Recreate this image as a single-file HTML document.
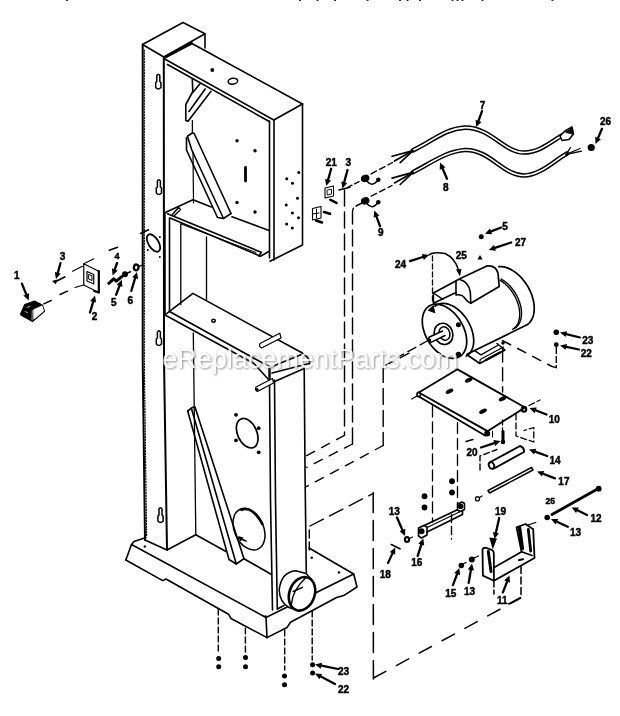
<!DOCTYPE html>
<html><head><meta charset="utf-8"><title>Parts Diagram</title>
<style>
html,body{margin:0;padding:0;background:#fff;}
body{width:620px;height:716px;overflow:hidden;position:relative;font-family:"Liberation Sans",sans-serif;}
svg{position:absolute;left:0;top:0;display:block}
svg text{font-family:"Liberation Sans",sans-serif;font-weight:bold;fill:#000;stroke:#000;stroke-width:0.45px;}
</style></head><body>
<svg width="620" height="716" viewBox="0 0 620 716" stroke-linecap="round" stroke-linejoin="round">
<g filter="url(#b)">
<defs><filter id="b" x="-5%" y="-5%" width="110%" height="110%"><feGaussianBlur stdDeviation="0.35"/></filter></defs>
<rect x="66" y="-1" width="2" height="1.8" fill="#000"/>
<rect x="299" y="-1" width="2" height="1.8" fill="#000"/>
<rect x="316.5" y="-1" width="2" height="1.8" fill="#000"/>
<rect x="334" y="-1" width="2" height="1.8" fill="#000"/>
<rect x="366.5" y="-1" width="2" height="1.8" fill="#000"/>
<rect x="399" y="-1" width="2" height="1.8" fill="#000"/>
<rect x="406.5" y="-1" width="2" height="1.8" fill="#000"/>
<rect x="419" y="-1" width="2" height="1.8" fill="#000"/>
<rect x="451.5" y="-1" width="2" height="1.8" fill="#000"/>
<rect x="456.5" y="-1" width="2" height="1.8" fill="#000"/>
<rect x="461.5" y="-1" width="2" height="1.8" fill="#000"/>
<rect x="481.5" y="-1" width="2" height="1.8" fill="#000"/>
<rect x="551.5" y="-1" width="2" height="1.8" fill="#000"/>
<polyline points="142.7,44.5 142.7,360.0 145.0,540.0" fill="none" stroke="#000" stroke-width="2" />
<polyline points="145.0,540.0 167.0,550.0 195.8,534.8" fill="none" stroke="#000" stroke-width="1.6" />
<polyline points="142.5,44.5 183.0,22.5 205.0,33.8 163.8,57.0 142.5,44.5" fill="none" stroke="#000" stroke-width="1.6" />
<polyline points="205.0,33.8 205.0,48.0" fill="none" stroke="#000" stroke-width="1.6" />
<polyline points="163.8,57.0 164.0,360.0 167.0,550.0" fill="none" stroke="#000" stroke-width="2" />
<polyline points="144.3,50.0 144.3,360.0 146.6,536.0" fill="none" stroke="#000" stroke-width="1.2" stroke-dasharray="1.2 1.6"/>
<path d="M156.8,81.5 L156.8,75.5 Q158.3,73.0 159.8,75.5 L159.8,81.5 L160.9,82.5 L160.9,87.5 Q158.3,90.5 155.70000000000002,87.5 L155.70000000000002,82.5 Z" fill="none" stroke="#000" stroke-width="1.5" />
<path d="M157.4,187 L157.4,181 Q158.9,178.5 160.4,181 L160.4,187 L161.5,188 L161.5,193 Q158.9,196 156.3,193 L156.3,188 Z" fill="none" stroke="#000" stroke-width="1.5" />
<path d="M157.4,338 L157.4,332 Q158.9,329.5 160.4,332 L160.4,338 L161.5,339 L161.5,344 Q158.9,347 156.3,344 L156.3,339 Z" fill="none" stroke="#000" stroke-width="1.5" />
<path d="M159.0,515 L159.0,509 Q160.5,506.5 162.0,509 L162.0,515 L163.1,516 L163.1,521 Q160.5,524 157.9,521 L157.9,516 Z" fill="none" stroke="#000" stroke-width="1.5" />
<ellipse cx="153.5" cy="243" rx="5" ry="9.8" transform="rotate(-32 153.5 243)" fill="none" stroke="#000" stroke-width="1.8"/>
<polyline points="140.5,233.5 148.5,229.7" fill="none" stroke="#000" stroke-width="1.5" />
<circle cx="159.8" cy="237.1" r="1" fill="#000"/>
<circle cx="159.8" cy="257.1" r="1" fill="#000"/>
<circle cx="147.8" cy="250" r="1" fill="#000"/>
<polyline points="165.0,57.3 191.5,43.3" fill="none" stroke="#000" stroke-width="2.8" />
<polyline points="191.0,43.0 302.5,104.0" fill="none" stroke="#000" stroke-width="1.6" />
<polyline points="163.8,58.5 273.8,120.0 302.5,104.0" fill="none" stroke="#000" stroke-width="1.6" />
<polyline points="167.5,64.5 268.8,121.2" fill="none" stroke="#000" stroke-width="1.6" />
<polyline points="302.5,104.0 302.5,245.0 270.0,261.2" fill="none" stroke="#000" stroke-width="1.6" />
<polyline points="274.0,120.0 274.0,260.0" fill="none" stroke="#000" stroke-width="1.6" />
<polyline points="269.5,121.0 269.5,258.0" fill="none" stroke="#000" stroke-width="1.6" />
<polyline points="192.4,120.6 192.4,133.0" fill="none" stroke="#000" stroke-width="1.3" />
<polyline points="193.0,152.0 193.5,203.0" fill="none" stroke="#000" stroke-width="1.2" />
<circle cx="212.3" cy="70" r="1.9" fill="#000"/>
<ellipse cx="232.9" cy="81.2" rx="4.8" ry="2.9" transform="rotate(-8 232.9 81.2)" fill="none" stroke="#000" stroke-width="1.5"/>
<polyline points="192.3,79.5 192.8,91.5 185.8,104.5 185.8,120.6 188.0,121.3 211.0,91.3" fill="none" stroke="#000" stroke-width="1.6" />
<polyline points="189.0,111.5 205.2,89.0" fill="none" stroke="#000" stroke-width="1.6" />
<polyline points="193.2,92.0 199.8,84.0" fill="none" stroke="#000" stroke-width="1.6" />
<polyline points="186.5,138.5 186.5,150.0 217.5,217.5 223.5,218.5 231.0,213.5" fill="none" stroke="#000" stroke-width="1.6" />
<polyline points="187.7,137.0 191.8,150.0 223.5,218.5" fill="none" stroke="#000" stroke-width="1.6" />
<polyline points="186.5,138.5 187.7,136.0 192.3,133.0 194.2,133.5 231.0,213.5" fill="none" stroke="#000" stroke-width="1.6" />
<circle cx="237" cy="140.75" r="1.7" fill="#000"/>
<circle cx="255" cy="150.75" r="1.7" fill="#000"/>
<circle cx="237" cy="202.5" r="1.7" fill="#000"/>
<circle cx="255" cy="212" r="1.7" fill="#000"/>
<polyline points="245.5,167.5 245.5,181.0" fill="none" stroke="#000" stroke-width="2.8" />
<circle cx="298.75" cy="172.5" r="1.5" fill="#000"/>
<circle cx="286.75" cy="178.75" r="1.5" fill="#000"/>
<circle cx="292.5" cy="183.25" r="1.5" fill="#000"/>
<circle cx="297.5" cy="198.25" r="1.5" fill="#000"/>
<circle cx="286.25" cy="205" r="1.5" fill="#000"/>
<circle cx="292.4" cy="213" r="1.5" fill="#000"/>
<circle cx="298.5" cy="217.7" r="1.5" fill="#000"/>
<circle cx="286.6" cy="224" r="1.5" fill="#000"/>
<circle cx="292.3" cy="228" r="1.5" fill="#000"/>
<polyline points="165.3,212.6 193.0,199.7 211.3,207.0" fill="none" stroke="#000" stroke-width="1.6" />
<polyline points="232.0,216.8 269.0,230.5" fill="none" stroke="#000" stroke-width="1.6" />
<path d="M172.4,214.5 L178.5,207.5 L180.5,209.5 L174.5,215.5" fill="none" stroke="#000" stroke-width="1.4" />
<polyline points="167.5,213.8 261.2,252.3 259.0,256.3" fill="none" stroke="#000" stroke-width="1.6" />
<polyline points="260.5,256.3 268.8,251.5" fill="none" stroke="#000" stroke-width="1.6" />
<polyline points="170.0,218.0 258.8,255.5" fill="none" stroke="#000" stroke-width="1.6" />
<polyline points="181.0,224.0 256.0,252.5" fill="none" stroke="#000" stroke-width="1" />
<polyline points="164.6,213.0 164.7,314.0" fill="none" stroke="#000" stroke-width="2.2" />
<polyline points="169.5,218.0 169.5,311.0" fill="none" stroke="#000" stroke-width="1.6" />
<polyline points="180.8,224.0 180.8,304.5" fill="none" stroke="#000" stroke-width="1.3" />
<polyline points="206.5,237.0 206.5,300.0" fill="none" stroke="#000" stroke-width="1.3" />
<polyline points="165.5,314.5 169.5,311.3 192.9,293.4 301.0,352.3" fill="none" stroke="#000" stroke-width="1.6" />
<path d="M301,352.3 Q308,356.5 309.5,361 Q310,364 309,364" fill="none" stroke="#000" stroke-width="1.6" />
<polyline points="169.5,311.5 270.3,367.3 301.0,354.7" fill="none" stroke="#000" stroke-width="1.6" />
<polyline points="165.5,315.2 254.0,363.5 268.7,379.7" fill="none" stroke="#000" stroke-width="1.6" />
<polyline points="269.5,366.8 269.5,380.0" fill="none" stroke="#000" stroke-width="2.4" />
<polyline points="272.0,373.0 309.0,363.5" fill="none" stroke="#000" stroke-width="1.6" />
<polyline points="273.5,382.0 304.2,368.4" fill="none" stroke="#000" stroke-width="1.6" />
<polyline points="304.2,368.0 305.0,470.0 306.3,574.0" fill="none" stroke="#000" stroke-width="1.6" />
<polyline points="269.5,380.0 270.5,500.0 272.5,610.0" fill="none" stroke="#000" stroke-width="1.6" />
<polyline points="274.5,380.0 275.5,500.0 277.3,609.0" fill="none" stroke="#000" stroke-width="1.6" />
<polyline points="193.3,333.0 195.8,534.8" fill="none" stroke="#000" stroke-width="1.3" />
<path d="M261.5,348 L281,338 L279.8,333.2 L260,343.5 Q258.5,346.5 261.5,348Z" fill="#fff" stroke="#000" stroke-width="1.2" />
<path d="M257.4,391.5 L273.5,383 L272.5,378.5 L256,387 Q254.5,390 257.4,391.5Z" fill="#fff" stroke="#000" stroke-width="1.2" />
<circle cx="257" cy="389.5" r="1.6" fill="#000"/>
<ellipse cx="213.5" cy="320.8" rx="1.8" ry="1.5" transform="rotate(0 213.5 320.8)" fill="none" stroke="#000" stroke-width="1.4"/>
<polyline points="195.8,534.8 226.0,551.5" fill="none" stroke="#000" stroke-width="1.6" />
<polyline points="244.0,558.7 271.5,574.5" fill="none" stroke="#000" stroke-width="1.6" />
<polyline points="187.7,411.0 229.0,559.5 236.3,564.0 244.0,558.7" fill="none" stroke="#000" stroke-width="1.6" />
<polyline points="191.6,409.0 236.3,564.0" fill="none" stroke="#000" stroke-width="1.6" />
<polyline points="187.7,411.0 191.6,408.0 194.8,406.5 244.0,558.7" fill="none" stroke="#000" stroke-width="1.6" />
<ellipse cx="247.2" cy="433.2" rx="9.6" ry="15.6" transform="rotate(-24 247.2 433.2)" fill="none" stroke="#000" stroke-width="1.7"/>
<circle cx="236" cy="414.8" r="1.9" fill="#000"/>
<circle cx="258.7" cy="428.2" r="1.9" fill="#000"/>
<circle cx="236" cy="440.3" r="1.9" fill="#000"/>
<circle cx="258.7" cy="452.3" r="1.9" fill="#000"/>
<ellipse cx="249" cy="529.2" rx="14.6" ry="21.8" transform="rotate(-24 249 529.2)" fill="none" stroke="#000" stroke-width="1.5"/>
<path d="M241.5,509.8 Q252,505.5 262.3,524" fill="none" stroke="#000" stroke-width="2.6" />
<polyline points="238.5,538.0 246.0,541.0" fill="none" stroke="#000" stroke-width="1.6" />
<polygon points="238,536 243.5,537.5 240.5,541.5" fill="#000"/>
<polyline points="146.0,537.5 134.0,541.5 131.5,544.5 125.8,560.0" fill="none" stroke="#000" stroke-width="1.6" />
<polyline points="131.5,544.5 266.0,617.5 353.7,574.0 309.0,548.0" fill="none" stroke="#000" stroke-width="1.6" />
<polyline points="125.8,560.0 162.7,580.6 166.0,579.0 228.5,614.2 231.0,618.5 267.0,637.6" fill="none" stroke="#000" stroke-width="1.6" />
<polyline points="266.0,617.5 267.0,637.6" fill="none" stroke="#000" stroke-width="1.6" />
<polyline points="267.0,637.6 287.0,627.5 290.5,622.3 336.6,597.5 343.7,595.6 357.0,587.0 353.7,574.0" fill="none" stroke="#000" stroke-width="1.6" />
<circle cx="144.9" cy="546.5" r="1.2" fill="#000"/>
<circle cx="265.6" cy="616.5" r="1.2" fill="#000"/>
<circle cx="311.7" cy="557.7" r="1.2" fill="#000"/>
<circle cx="339" cy="572.4" r="1.2" fill="#000"/>
<polyline points="277.3,609.0 284.0,605.5" fill="none" stroke="#000" stroke-width="1.6" />
<path d="M295.8,570.7 Q281,572 279.2,590 Q279.5,602 289,607.5 L300,611 L312,580 L306,573.5 Z" fill="#fff" stroke="#000" stroke-width="1.5" />
<ellipse cx="302" cy="593.8" rx="12.6" ry="17.2" transform="rotate(20 302 593.8)" fill="#fff" stroke="#000" stroke-width="2.6"/>
<path d="M306,577.5 Q292.5,590 291.5,604" fill="none" stroke="#000" stroke-width="1.4" />
<polyline points="293.2,591.5 302.5,587.3" fill="none" stroke="#000" stroke-width="1.4" />
<polyline points="218.3,609.0 218.3,652.0" fill="none" stroke="#000" stroke-width="1.4" stroke-dasharray="6 3"/>
<polyline points="245.4,628.0 245.4,652.0" fill="none" stroke="#000" stroke-width="1.4" stroke-dasharray="6 3"/>
<polyline points="284.7,630.0 284.7,670.0" fill="none" stroke="#000" stroke-width="1.4" stroke-dasharray="6 3"/>
<polyline points="312.2,611.0 312.2,660.0" fill="none" stroke="#000" stroke-width="1.4" stroke-dasharray="6 3"/>
<circle cx="218.7" cy="658.4" r="2.5" fill="#000"/>
<circle cx="218.7" cy="666.8" r="2.5" fill="#000"/>
<circle cx="245.5" cy="657.5" r="2.5" fill="#000"/>
<circle cx="245.5" cy="666.8" r="2.5" fill="#000"/>
<circle cx="284.5" cy="676" r="2.5" fill="#000"/>
<circle cx="284.5" cy="684.8" r="2.5" fill="#000"/>
<circle cx="312.6" cy="664.7" r="2.5" fill="#000"/>
<circle cx="312.6" cy="673" r="2.5" fill="#000"/>
<polyline points="338.0,669.0 321.4,665.7" fill="none" stroke="#000" stroke-width="2.2" />
<polygon points="315.0,664.5 322.0,662.8 320.8,668.7" fill="#000"/>
<polyline points="335.0,684.0 320.8,676.5" fill="none" stroke="#000" stroke-width="2.2" />
<polygon points="315.0,673.5 322.1,673.9 319.4,679.2" fill="#000"/>
<text x="343.5" y="675" font-size="10" text-anchor="middle">23</text>
<text x="343.5" y="692.5" font-size="10" text-anchor="middle">22</text>
<text x="16.9" y="279" font-size="10" text-anchor="middle">1</text>
<polyline points="21.9,283.6 26.3,294.5" fill="none" stroke="#000" stroke-width="2.3" />
<polygon points="28.7,300.5 23.4,295.6 29.1,293.3" fill="#000"/>
<path d="M20.8,313.5 L24.8,304.5 L34.4,301 L42.3,305 L44.5,311.3 L32.5,321.5 L20.8,315Z" fill="#000" stroke="#000" stroke-width="1.2" />
<path d="M34,309.5 L42,306 L43.6,311 L34,319Z" fill="#fff" stroke="#fff" stroke-width="0.8" />
<polyline points="32.3,310.5 32.0,320.0" fill="none" stroke="#bbb" stroke-width="0.9" />
<polyline points="27.0,307.5 30.0,306.3" fill="none" stroke="#ccc" stroke-width="0.8" />
<polyline points="25.0,311.5 27.5,312.5" fill="none" stroke="#ccc" stroke-width="0.8" />
<polyline points="43.8,303.8 51.2,300.5" fill="none" stroke="#000" stroke-width="1.4" />
<polyline points="60.0,294.5 67.5,291.2" fill="none" stroke="#000" stroke-width="1.4" />
<text x="62.5" y="259.5" font-size="10" text-anchor="middle">3</text>
<polyline points="60.5,263.0 57.8,272.7" fill="none" stroke="#000" stroke-width="2.3" />
<polygon points="56.0,279.0 54.8,271.9 60.7,273.6" fill="#000"/>
<polyline points="54.7,282.0 64.8,277.0" fill="none" stroke="#000" stroke-width="1.7" />
<polygon points="52,281 57,279.5 56,284.5" fill="#000"/>
<path d="M83.75,263.75 L98.75,271.25 L98.75,292.5 L83.75,285Z" fill="none" stroke="#000" stroke-width="1.2" />
<polyline points="98.8,271.2 98.8,292.5" fill="none" stroke="#000" stroke-width="2.2" />
<polyline points="98.8,292.5 94.0,291.0" fill="none" stroke="#000" stroke-width="2" />
<path d="M87,271.5 L93.75,274.5 L93.75,284 L87,281Z" fill="none" stroke="#000" stroke-width="1.2" />
<path d="M89,274.5 L92,275.8 L92,280.5 L89,279.2Z" fill="none" stroke="#000" stroke-width="1" />
<polyline points="83.8,263.8 93.8,258.8" fill="none" stroke="#000" stroke-width="1.1" />
<polyline points="72.5,271.2 82.5,266.2" fill="none" stroke="#000" stroke-width="1.1" />
<polyline points="83.8,285.0 75.0,287.5" fill="none" stroke="#000" stroke-width="1.1" />
<text x="94.5" y="320" font-size="10" text-anchor="middle">2</text>
<polyline points="90.0,312.5 93.2,301.7" fill="none" stroke="#000" stroke-width="2.3" />
<polygon points="95.0,295.5 96.1,302.6 90.2,300.9" fill="#000"/>
<text x="117.1" y="259" font-size="9" text-anchor="middle">4</text>
<polyline points="109.3,250.3 117.6,247.3" fill="none" stroke="#000" stroke-width="1.5" />
<polyline points="117.1,263.0 114.8,269.4" fill="none" stroke="#000" stroke-width="2.3" />
<polygon points="112.6,275.5 111.9,268.3 117.7,270.4" fill="#000"/>
<polyline points="108.8,283.3 113.7,278.8 116.3,281.2 122.0,276.5" fill="none" stroke="#000" stroke-width="3" />
<text x="113.7" y="306.3" font-size="10" text-anchor="middle">5</text>
<polyline points="116.1,294.8 119.5,285.9" fill="none" stroke="#000" stroke-width="2.3" />
<polygon points="121.8,279.8 122.4,287.0 116.6,284.8" fill="#000"/>
<circle cx="125" cy="274.2" r="3" fill="#000"/>
<polyline points="127.0,273.3 130.5,271.8" fill="none" stroke="#000" stroke-width="1.5" />
<text x="130.3" y="304" font-size="10" text-anchor="middle">6</text>
<polyline points="131.3,290.9 135.1,278.2" fill="none" stroke="#000" stroke-width="2.3" />
<polygon points="137.0,272.0 138.1,279.1 132.2,277.3" fill="#000"/>
<ellipse cx="136.2" cy="267.4" rx="2.3" ry="2.9" transform="rotate(10 136.2 267.4)" fill="none" stroke="#000" stroke-width="2.3"/>
<polyline points="139.0,266.3 143.0,264.8" fill="none" stroke="#000" stroke-width="1.3" />
<text x="331.25" y="166" font-size="10" text-anchor="middle">21</text>
<polyline points="331.2,168.8 328.1,179.8" fill="none" stroke="#000" stroke-width="2.3" />
<polygon points="326.2,186.0 325.1,178.9 331.0,180.6" fill="#000"/>
<text x="348.25" y="166" font-size="10" text-anchor="middle">3</text>
<polyline points="347.5,170.0 344.2,182.2" fill="none" stroke="#000" stroke-width="2.3" />
<polygon points="342.5,188.5 341.2,181.4 347.2,183.0" fill="#000"/>
<polyline points="339.0,190.0 350.0,187.3" fill="none" stroke="#000" stroke-width="1.5" />
<path d="M325,188 L333.5,186 L333.5,196 L325,198Z" fill="none" stroke="#000" stroke-width="1.1" />
<path d="M327.5,190 L331.5,189.2 L331.5,194 L327.5,195Z" fill="none" stroke="#000" stroke-width="0.9" />
<path d="M312.5,208.5 L321,206.5 L321,218 L312.5,220Z" fill="none" stroke="#000" stroke-width="1.1" />
<polyline points="316.5,209.0 316.5,217.5" fill="none" stroke="#000" stroke-width="1" />
<polyline points="312.5,214.0 319.0,213.0" fill="none" stroke="#000" stroke-width="1" />
<polyline points="330.5,199.8 336.5,202.8" fill="none" stroke="#000" stroke-width="2.6" />
<polyline points="324.0,212.0 330.0,213.8" fill="none" stroke="#000" stroke-width="2.6" />
<polyline points="316.0,220.6 322.0,222.4" fill="none" stroke="#000" stroke-width="2.6" />
<polyline points="344.5,190.0 344.5,435.3" fill="none" stroke="#000" stroke-width="1.4" stroke-dasharray="16 6"/>
<polyline points="344.5,435.3 306.4,455.8" fill="none" stroke="#000" stroke-width="1.4" stroke-dasharray="9 8"/>
<path d="M352.5,444 L352.5,212 Q352.5,207.5 356.5,205.5" fill="none" stroke="#000" stroke-width="1.4" stroke-dasharray="16 6"/>
<polyline points="352.5,444.0 306.4,467.5" fill="none" stroke="#000" stroke-width="1.4" stroke-dasharray="9 8"/>
<polyline points="409.0,353.2 383.2,366.4" fill="none" stroke="#000" stroke-width="1.4" stroke-dasharray="10 6"/>
<polyline points="383.2,366.4 383.2,445.5" fill="none" stroke="#000" stroke-width="1.4" stroke-dasharray="16 6"/>
<polyline points="383.2,445.5 306.4,486.6" fill="none" stroke="#000" stroke-width="1.4" stroke-dasharray="9 8"/>
<polyline points="373.2,492.6 373.4,679.0" fill="none" stroke="#000" stroke-width="1.5" stroke-dasharray="20 8"/>
<polyline points="373.5,678.0 520.7,598.0" fill="none" stroke="#000" stroke-width="1.5" stroke-dasharray="14 12"/>
<polyline points="309.3,550.0 309.3,527.0" fill="none" stroke="#000" stroke-width="1.4" stroke-dasharray="8 4"/>
<polyline points="310.0,526.0 372.3,493.9" fill="none" stroke="#000" stroke-width="1.4" stroke-dasharray="15 7"/>
<ellipse cx="365.2" cy="178.3" rx="3.8" ry="3.1" transform="rotate(-20 365.2 178.3)" fill="#000" stroke="#000" stroke-width="1"/>
<circle cx="378.3" cy="179.8" r="2.3" fill="#000"/>
<path d="M366.5,180.8 q5.5,6.5 10.5,0.5" fill="none" stroke="#000" stroke-width="1.6" />
<ellipse cx="365.2" cy="200.8" rx="3.8" ry="3.1" transform="rotate(-20 365.2 200.8)" fill="#000" stroke="#000" stroke-width="1"/>
<circle cx="378.3" cy="202.3" r="2.3" fill="#000"/>
<path d="M366.5,203.3 q5.5,6.5 10.5,0.5" fill="none" stroke="#000" stroke-width="1.6" />
<polyline points="347.5,187.5 362.0,180.0" fill="none" stroke="#000" stroke-width="1.4" stroke-dasharray="5 3"/>
<polyline points="371.2,173.8 392.5,162.5" fill="none" stroke="#000" stroke-width="1.4" stroke-dasharray="6 3.5"/>
<polyline points="356.0,206.0 362.0,203.0" fill="none" stroke="#000" stroke-width="1.4" stroke-dasharray="11 5"/>
<polyline points="371.2,196.2 392.0,185.5" fill="none" stroke="#000" stroke-width="1.4" stroke-dasharray="6 3.5"/>
<path d="M413,150.3 C432,141.5 445,128.6 465,127.6 C490,127 505,153 524,152.5 C540,152.5 552,141 562,135.5" fill="none" stroke="#000" stroke-width="4.6" />
<path d="M413,150.3 C432,141.5 445,128.6 465,127.6 C490,127 505,153 524,152.5 C540,152.5 552,141 562,135.5" fill="none" stroke="#fff" stroke-width="1.5999999999999996" />
<path d="M413,172.2 C430,163.8 445,151.5 465,150 C490,149.5 503,175.5 524,175.5 C540,175.5 555,160 567,153.5" fill="none" stroke="#000" stroke-width="4.6" />
<path d="M413,172.2 C430,163.8 445,151.5 465,150 C490,149.5 503,175.5 524,175.5 C540,175.5 555,160 567,153.5" fill="none" stroke="#fff" stroke-width="1.5999999999999996" />
<polyline points="392.1,156.3 413.0,150.6" fill="none" stroke="#000" stroke-width="1.7" />
<polyline points="394.5,161.1 413.0,150.6" fill="none" stroke="#000" stroke-width="1.7" />
<polyline points="400.2,162.7 413.0,150.6" fill="none" stroke="#000" stroke-width="1.7" />
<polyline points="392.1,178.1 413.0,172.4" fill="none" stroke="#000" stroke-width="1.7" />
<polyline points="394.5,182.9 413.0,172.4" fill="none" stroke="#000" stroke-width="1.7" />
<polyline points="400.2,184.5 413.0,172.4" fill="none" stroke="#000" stroke-width="1.7" />
<polyline points="566.0,154.5 581.5,151.2" fill="none" stroke="#000" stroke-width="1.3" />
<polyline points="566.0,154.5 570.5,147.5" fill="none" stroke="#000" stroke-width="1.3" />
<polyline points="566.0,154.5 580.0,148.5" fill="none" stroke="#000" stroke-width="1.3" />
<path d="M560,136 L565,131 L572,127 L573.5,134 L569,139.5 L562,140.5Z" fill="#fff" stroke="#000" stroke-width="1.6" />
<path d="M566,132 L572,128.5 L573,134Z" fill="#000" stroke="#000" stroke-width="1" />
<text x="482.5" y="108.5" font-size="10" text-anchor="middle">7</text>
<polyline points="482.0,111.2 478.5,120.9" fill="none" stroke="#000" stroke-width="2.3" />
<polygon points="476.2,127.0 475.6,119.8 481.4,122.0" fill="#000"/>
<text x="445.75" y="190.5" font-size="10" text-anchor="middle">8</text>
<polyline points="447.0,178.8 442.6,168.5" fill="none" stroke="#000" stroke-width="2.3" />
<polygon points="440.0,162.5 445.4,167.2 439.7,169.7" fill="#000"/>
<text x="380.75" y="235.5" font-size="10" text-anchor="middle">9</text>
<polyline points="380.0,226.2 376.5,216.6" fill="none" stroke="#000" stroke-width="2.3" />
<polygon points="374.3,210.5 379.4,215.6 373.6,217.7" fill="#000"/>
<text x="605.5" y="125" font-size="10" text-anchor="middle">26</text>
<polyline points="602.0,128.8 598.0,138.0" fill="none" stroke="#000" stroke-width="2.3" />
<polygon points="595.5,144.0 595.2,136.8 600.9,139.2" fill="#000"/>
<circle cx="591.25" cy="147.5" r="3.6" fill="#000"/>
<text x="505" y="229.5" font-size="10" text-anchor="middle">5</text>
<polyline points="501.2,227.5 491.1,231.4" fill="none" stroke="#000" stroke-width="2.2" />
<polygon points="485.0,233.8 490.0,228.6 492.1,234.2" fill="#000"/>
<circle cx="481.25" cy="236.75" r="2.5" fill="#000"/>
<text x="520.5" y="246" font-size="10" text-anchor="middle">27</text>
<polyline points="511.2,242.5 494.9,247.9" fill="none" stroke="#000" stroke-width="2.2" />
<polygon points="488.8,250.0 494.0,245.1 495.9,250.8" fill="#000"/>
<polygon points="477.5,259.5 482.5,259.5 480,255" fill="#000"/>
<text x="400.5" y="267.5" font-size="10" text-anchor="middle">24</text>
<polyline points="410.0,261.2 422.8,257.0" fill="none" stroke="#000" stroke-width="2.3" />
<polygon points="429.0,255.0 423.8,260.0 421.9,254.1" fill="#000"/>
<text x="461.25" y="258.5" font-size="10" text-anchor="middle">25</text>
<path d="M429,255 Q433,251.5 445,253.5 Q455,258 458.5,270" fill="none" stroke="#000" stroke-width="1.5" />
<polygon points="460,276.5 456,269.5 461.5,269" fill="#000"/>
<polyline points="432.5,256.0 432.5,302.0" fill="none" stroke="#000" stroke-width="1.3" stroke-dasharray="5 3"/>
<polyline points="498.9,266.6 500.5,266.5 502.2,266.6 503.8,266.9 505.6,267.3 507.3,267.9 509.0,268.6 510.8,269.4 512.5,270.4 514.3,271.6 516.0,272.8 517.6,274.2 519.3,275.6 520.9,277.2 522.4,278.9 523.8,280.7 525.2,282.5 526.5,284.4 527.8,286.4 528.9,288.5 529.9,290.5 530.9,292.7 531.7,294.8 532.4,296.9 533.0,299.1 533.5,301.2 533.9,303.3 534.1,305.4 534.2,307.4 534.2,309.4 534.1,311.3 533.9,313.1 533.5,314.9 533.0,316.6 532.4,318.1 531.7,319.6 530.8,320.9 529.9,322.2 528.9,323.3 527.7,324.3 526.5,325.1" fill="none" stroke="#000" stroke-width="1.7" />
<polyline points="500.1,280.3 501.4,281.1 502.6,281.9 503.8,282.9 505.0,283.8 506.2,284.9 507.4,286.0 508.5,287.2 509.5,288.4 510.6,289.7 511.6,291.0 512.5,292.4 513.4,293.8 514.3,295.3 515.1,296.7 515.8,298.2 516.5,299.7 517.1,301.3 517.7,302.8 518.2,304.3 518.6,305.9 519.0,307.4 519.3,308.9 519.5,310.4 519.6,311.9 519.7,313.4 519.7,314.8 519.6,316.2 519.5,317.5 519.3,318.8 519.0,320.1 518.7,321.3 518.3,322.5 517.8,323.6 517.2,324.6 516.6,325.6 515.9,326.4 515.2,327.3 514.4,328.0 513.6,328.7 512.7,329.3" fill="none" stroke="#000" stroke-width="1.4" />
<polyline points="501.2,279.0 502.4,279.8 503.7,280.6 504.9,281.5 506.2,282.5 507.4,283.5 508.6,284.6 509.7,285.8 510.8,287.0 511.9,288.3 512.9,289.6 513.9,291.0 514.9,292.4 515.7,293.9 516.6,295.3 517.3,296.8 518.1,298.4 518.7,299.9 519.3,301.5 519.8,303.0 520.3,304.6 520.7,306.1 521.0,307.7 521.2,309.2 521.4,310.7 521.5,312.2 521.5,313.7 521.5,315.1 521.3,316.5 521.1,317.8 520.9,319.1 520.5,320.3 520.1,321.5 519.6,322.6 519.1,323.7 518.5,324.7 517.8,325.6 517.1,326.4 516.3,327.2 515.4,327.9 514.5,328.5" fill="none" stroke="#000" stroke-width="1.4" />
<polyline points="467.5,354.0 526.5,325.1" fill="none" stroke="#000" stroke-width="1.7" />
<polyline points="460.7,321.6 461.8,323.6 462.9,325.6 463.8,327.7 464.6,329.9 465.3,332.0 465.8,334.1 466.3,336.2 466.5,338.3 466.7,340.3 466.7,342.3 466.6,344.2 466.3,346.0 465.9,347.8 465.4,349.4 464.7,350.9 464.0,352.3 463.1,353.6 462.0,354.8 460.9,355.7 459.7,356.6 458.4,357.3 457.0,357.8 455.5,358.2 453.9,358.4 452.3,358.4 450.7,358.2 449.0,357.9 447.3,357.5 445.5,356.8 443.8,356.1 442.0,355.1 440.3,354.0 438.6,352.8 437.0,351.5 435.3,350.0 433.8,348.4 432.3,346.7 430.9,344.9 429.5,343.0 428.3,341.0 427.2,339.0 426.1,337.0 425.2,334.9 424.4,332.7 423.7,330.6 423.2,328.5 422.7,326.4 422.5,324.3 422.3,322.3 422.3,320.3 422.4,318.4 422.7,316.6 423.1,314.8 423.6,313.2 424.3,311.7 425.0,310.3 425.9,309.0 427.0,307.8 428.1,306.9 429.3,306.0 430.6,305.3 432.0,304.8 433.5,304.4 435.1,304.2 436.7,304.2 438.3,304.4 440.0,304.7 441.7,305.1 443.5,305.8 445.2,306.5 447.0,307.5 448.7,308.6 450.4,309.8 452.0,311.1 453.7,312.6 455.2,314.2 456.7,315.9 458.1,317.7 459.5,319.6 460.7,321.6" fill="none" stroke="#000" stroke-width="1.7" />
<polyline points="435.0,306.2 436.2,305.3 437.6,304.5 439.0,304.0 440.6,303.6 442.2,303.4 443.9,303.4 445.6,303.6 447.4,303.9 449.1,304.5 451.0,305.2 452.8,306.0 454.6,307.0 456.3,308.2 458.1,309.6 459.8,311.0 461.5,312.6 463.0,314.4 464.6,316.2 466.0,318.1 467.3,320.1 468.5,322.2 469.6,324.3 470.6,326.5 471.5,328.7 472.2,330.9 472.8,333.1 473.2,335.3 473.5,337.4 473.7,339.6 473.7,341.6 473.6,343.6 473.3,345.5 472.8,347.3 472.3,348.9 471.6,350.5 470.7,351.9 469.7,353.2 468.6,354.3 467.4,355.3 466.1,356.1" fill="none" stroke="#000" stroke-width="1.7" />
<ellipse cx="443.5" cy="333.9" rx="9.2" ry="10.8" transform="rotate(-20 443.5 333.9)" fill="none" stroke="#000" stroke-width="1.6"/>
<ellipse cx="444.5" cy="333.5" rx="5.3" ry="6.8" transform="rotate(-20 444.5 333.5)" fill="none" stroke="#000" stroke-width="1.5"/>
<path d="M445,335.5 L431,342.3 Q428.3,341 429,337.3 L442.5,331" fill="#fff" stroke="#000" stroke-width="1.5" />
<circle cx="429.8" cy="340" r="1.5" fill="#000"/>
<polyline points="433.4,293.0 459.8,278.8 486.9,265.9" fill="none" stroke="#000" stroke-width="1.7" />
<path d="M486.9,265.9 Q496,265 498,273 L499.2,286.5 L470.8,303.3" fill="none" stroke="#000" stroke-width="1.7" />
<polyline points="433.4,293.0 433.4,303.3 456.0,292.5" fill="none" stroke="#000" stroke-width="1.6" />
<polyline points="433.4,293.0 443.0,299.4" fill="none" stroke="#000" stroke-width="1.4" />
<path d="M456,295 L456,281.4 M459.8,279.4 Q469,282 470.3,292 L470.8,303.3 M456,295 Q462,294 465,298.5 Q467.5,302 470.8,303.3" fill="none" stroke="#000" stroke-width="1.6" />
<polyline points="466.8,354.5 479.7,363.5 505.0,350.0 497.0,343.5" fill="none" stroke="#000" stroke-width="1.6" />
<polyline points="474.5,350.6 481.0,354.8 497.5,345.5" fill="none" stroke="#000" stroke-width="1.4" />
<polyline points="479.7,363.5 480.2,359.5 503.5,347.0" fill="none" stroke="#000" stroke-width="1.2" />
<polyline points="486.0,360.0 500.0,352.5" fill="none" stroke="#000" stroke-width="2.4" />
<polygon points="427.5,310.5 433.5,305 435.5,313.5" fill="#000"/>
<circle cx="458.4" cy="324.8" r="2.5" fill="#000"/>
<circle cx="458.4" cy="354.5" r="2.7" fill="#000"/>
<circle cx="503" cy="343" r="1.8" fill="#000"/>
<polyline points="428.0,340.5 400.0,356.0" fill="none" stroke="#000" stroke-width="1.4" stroke-dasharray="9 5"/>
<polyline points="502.6,340.6 552.2,366.6" fill="none" stroke="#000" stroke-width="1.5" stroke-dasharray="9 8"/>
<polyline points="502.6,348.5 502.6,392.0" fill="none" stroke="#000" stroke-width="1.4" stroke-dasharray="13.5 5.6"/>
<polyline points="556.3,347.4 556.3,367.7 551.5,366.3" fill="none" stroke="#000" stroke-width="1.4" stroke-dasharray="6 3"/>
<circle cx="556.3" cy="332.3" r="2.8" fill="#000"/>
<circle cx="556.3" cy="344.7" r="2.4" fill="#000"/>
<polyline points="580.0,337.5 566.3,334.1" fill="none" stroke="#000" stroke-width="2.2" />
<polygon points="560.0,332.5 567.0,331.2 565.6,337.0" fill="#000"/>
<polyline points="579.0,349.5 566.4,346.8" fill="none" stroke="#000" stroke-width="2.2" />
<polygon points="560.0,345.5 567.0,343.9 565.7,349.8" fill="#000"/>
<text x="587.7" y="343.7" font-size="10" text-anchor="middle">23</text>
<text x="586.3" y="357.2" font-size="10" text-anchor="middle">22</text>
<polyline points="418.8,392.5 457.5,369.3 525.0,407.5 487.5,431.2 418.8,392.5" fill="none" stroke="#000" stroke-width="1.9" />
<polyline points="418.8,396.5 485.0,435.5" fill="none" stroke="#000" stroke-width="1.9" />
<ellipse cx="418.75" cy="394.5" rx="1.8" ry="2.2" transform="rotate(0 418.75 394.5)" fill="none" stroke="#000" stroke-width="1.6"/>
<circle cx="487.2" cy="433.5" r="3" fill="#000"/>
<ellipse cx="524" cy="409.3" rx="2.2" ry="2.4" transform="rotate(0 524 409.3)" fill="none" stroke="#000" stroke-width="2.2"/>
<ellipse cx="449.5" cy="391.25" rx="3.6" ry="1.5" transform="rotate(-25 449.5 391.25)" fill="#000" stroke="#000" stroke-width="1"/>
<ellipse cx="468.75" cy="380" rx="3.6" ry="1.5" transform="rotate(-25 468.75 380)" fill="#000" stroke="#000" stroke-width="1"/>
<ellipse cx="483" cy="411.25" rx="3.6" ry="1.5" transform="rotate(-25 483 411.25)" fill="#000" stroke="#000" stroke-width="1"/>
<ellipse cx="502.5" cy="398.75" rx="3.6" ry="1.5" transform="rotate(-25 502.5 398.75)" fill="#000" stroke="#000" stroke-width="1"/>
<polyline points="417.0,396.0 411.0,399.5" fill="none" stroke="#000" stroke-width="1.3" stroke-dasharray="6 3"/>
<polyline points="432.5,406.0 432.5,522.0" fill="none" stroke="#000" stroke-width="1.3" stroke-dasharray="11 5"/>
<polyline points="457.5,422.5 457.5,505.0" fill="none" stroke="#000" stroke-width="1.3" stroke-dasharray="11 5"/>
<polyline points="502.5,420.0 502.5,436.0" fill="none" stroke="#000" stroke-width="1.3" stroke-dasharray="5 3"/>
<polyline points="516.0,414.0 516.0,436.0 533.8,442.0 533.8,427.5 524.0,430.5" fill="none" stroke="#000" stroke-width="1.3" stroke-dasharray="6 3"/>
<polyline points="529.0,405.5 540.0,400.0" fill="none" stroke="#000" stroke-width="1.3" stroke-dasharray="6 3"/>
<polyline points="492.5,431.0 492.5,437.0" fill="none" stroke="#000" stroke-width="1" />
<text x="472" y="456" font-size="10" text-anchor="middle">20</text>
<polyline points="481.0,447.5 494.3,443.1" fill="none" stroke="#000" stroke-width="2.3" />
<polygon points="500.5,441.0 495.3,446.0 493.4,440.1" fill="#000"/>
<polyline points="503.0,431.5 503.0,442.0" fill="none" stroke="#000" stroke-width="3" />
<circle cx="503" cy="442" r="2.3" fill="#000"/>
<polyline points="480.0,470.0 480.0,456.0 497.0,449.5" fill="none" stroke="#000" stroke-width="1.4" stroke-dasharray="6 3"/>
<polyline points="466.0,441.5 473.0,439.5" fill="none" stroke="#000" stroke-width="1.4" stroke-dasharray="11 5"/>
<path d="M489.5,462.5 L520,446 Q524.5,447.5 524,452 L494,468.5" fill="none" stroke="#000" stroke-width="1.9" />
<ellipse cx="491.5" cy="465.5" rx="2.6" ry="3.4" transform="rotate(-25 491.5 465.5)" fill="none" stroke="#000" stroke-width="1.8"/>
<path d="M488,490.5 L531.5,467.5 L533,470 L489.5,493Z" fill="none" stroke="#000" stroke-width="1.5" />
<ellipse cx="477.5" cy="498.75" rx="2" ry="2.2" transform="rotate(0 477.5 498.75)" fill="none" stroke="#000" stroke-width="1.3"/>
<polyline points="479.5,497.5 482.0,496.0" fill="none" stroke="#000" stroke-width="1.2" />
<polyline points="546.5,414.5 535.6,410.3" fill="none" stroke="#000" stroke-width="2.3" />
<polygon points="529.5,408.0 536.7,407.4 534.5,413.2" fill="#000"/>
<text x="554.2" y="423" font-size="10" text-anchor="middle">10</text>
<polyline points="547.2,456.0 535.1,451.6" fill="none" stroke="#000" stroke-width="2.3" />
<polygon points="529.0,449.4 536.2,448.7 534.1,454.5" fill="#000"/>
<text x="555" y="463.5" font-size="10" text-anchor="middle">14</text>
<polyline points="555.0,478.4 543.1,473.8" fill="none" stroke="#000" stroke-width="2.3" />
<polygon points="537.0,471.4 544.2,470.9 541.9,476.6" fill="#000"/>
<text x="563.9" y="485" font-size="10" text-anchor="middle">17</text>
<text x="550.3" y="504" font-size="8.5" text-anchor="middle">25</text>
<polyline points="587.0,515.0 577.4,510.3" fill="none" stroke="#000" stroke-width="2.3" />
<polygon points="571.6,507.4 578.8,507.5 576.1,513.1" fill="#000"/>
<text x="596" y="521.5" font-size="10" text-anchor="middle">12</text>
<polyline points="567.8,526.8 556.9,521.7" fill="none" stroke="#000" stroke-width="2.3" />
<polygon points="551.0,519.0 558.2,518.9 555.6,524.5" fill="#000"/>
<text x="575.5" y="535.5" font-size="10" text-anchor="middle">13</text>
<polyline points="552.0,514.5 597.5,489.0" fill="none" stroke="#000" stroke-width="2.8" />
<circle cx="598.7" cy="488.7" r="2.9" fill="#000"/>
<circle cx="547.2" cy="517.5" r="2.8" fill="#000"/>
<circle cx="452" cy="481.25" r="2.9" fill="#000"/>
<circle cx="452" cy="492.5" r="2.9" fill="#000"/>
<circle cx="424.5" cy="496.25" r="2.9" fill="#000"/>
<circle cx="424.5" cy="507.5" r="2.9" fill="#000"/>
<polyline points="451.5,514.5 451.5,539.0" fill="none" stroke="#000" stroke-width="1.4" stroke-dasharray="8 4"/>
<path d="M421,527 L459,509 L462.5,510.5 L462.5,514.5 L424,533.5 L420.5,532Z" fill="none" stroke="#000" stroke-width="1.7" />
<polyline points="424.0,533.5 424.0,529.0 462.5,510.5" fill="none" stroke="#000" stroke-width="1.1" />
<path d="M418.5,528 L424,525.5 L427,527 L427,535 L421.5,538 L418.5,536Z" fill="#fff" stroke="#000" stroke-width="1.6" />
<circle cx="421.5" cy="531.3" r="3" fill="#000"/>
<path d="M457.5,504 L462,502 L464.5,503.5 L464.5,509.5 L460,511.5 L457.5,510Z" fill="#fff" stroke="#000" stroke-width="1.5" />
<circle cx="460.6" cy="506.3" r="2.8" fill="#000"/>
<text x="394.3" y="515" font-size="10" text-anchor="middle">13</text>
<polyline points="397.0,517.5 402.4,530.0" fill="none" stroke="#000" stroke-width="2.3" />
<polygon points="405.0,536.0 399.6,531.3 405.3,528.8" fill="#000"/>
<ellipse cx="407" cy="539.5" rx="2.1" ry="2.4" transform="rotate(0 407 539.5)" fill="none" stroke="#000" stroke-width="2.2"/>
<polyline points="409.5,538.5 412.5,537.0" fill="none" stroke="#000" stroke-width="1.3" />
<text x="500.5" y="515" font-size="10" text-anchor="middle">19</text>
<polyline points="499.2,518.0 495.9,532.7" fill="none" stroke="#000" stroke-width="2.3" />
<polygon points="494.5,539.0 492.9,532.0 498.9,533.3" fill="#000"/>
<polygon points="489.3,537.5 497,538.5 492.8,549.5" fill="#000"/>
<text x="385.2" y="577.5" font-size="10" text-anchor="middle">18</text>
<polyline points="388.0,563.0 392.5,553.4" fill="none" stroke="#000" stroke-width="2.2" />
<polygon points="395.3,547.5 395.2,554.7 389.8,552.1" fill="#000"/>
<polyline points="391.3,544.5 400.0,548.8" fill="none" stroke="#000" stroke-width="1.6" />
<text x="416.8" y="566" font-size="10" text-anchor="middle">16</text>
<polyline points="417.7,555.8 421.3,544.7" fill="none" stroke="#000" stroke-width="2.3" />
<polygon points="423.3,538.5 424.2,545.6 418.3,543.7" fill="#000"/>
<text x="450.7" y="596.5" font-size="10" text-anchor="middle">15</text>
<polyline points="452.9,585.2 457.1,574.1" fill="none" stroke="#000" stroke-width="2.3" />
<polygon points="459.4,568.0 460.0,575.2 454.2,573.0" fill="#000"/>
<circle cx="461.3" cy="565.5" r="2.8" fill="#000"/>
<polyline points="463.0,564.0 466.0,562.5" fill="none" stroke="#000" stroke-width="1.3" />
<text x="469.6" y="594.5" font-size="10" text-anchor="middle">13</text>
<polyline points="468.7,582.9 470.9,569.9" fill="none" stroke="#000" stroke-width="2.3" />
<polygon points="472.0,563.5 474.0,570.4 467.9,569.4" fill="#000"/>
<circle cx="471.8" cy="559.5" r="3" fill="#000"/>
<polyline points="474.0,558.0 478.5,556.0" fill="none" stroke="#000" stroke-width="1.3" />
<text x="502.3" y="604" font-size="10" text-anchor="middle">11</text>
<polyline points="502.9,592.4 507.1,581.6" fill="none" stroke="#000" stroke-width="2.3" />
<polygon points="509.4,575.5 510.0,582.7 504.2,580.5" fill="#000"/>
<path d="M482.5,549.5 Q483,547.5 486,547.8 L492,550 Q493.7,551 493.8,553 L493.9,580.8 L482.9,575.6Z" fill="none" stroke="#000" stroke-width="1.8" />
<polyline points="488.3,551.5 491.0,571.5" fill="none" stroke="#000" stroke-width="3" stroke-dasharray="4 1"/>
<polyline points="493.9,580.8 534.5,558.0 533.2,529.2" fill="none" stroke="#000" stroke-width="1.8" />
<polyline points="494.5,567.3 521.6,551.8 532.0,555.5" fill="none" stroke="#000" stroke-width="1.6" />
<path d="M516.5,527.3 L525.5,524 L533.2,529.2 M516.5,527.3 L521.6,551.8" fill="none" stroke="#000" stroke-width="1.8" />
<polyline points="519.5,528.0 522.3,548.5" fill="none" stroke="#000" stroke-width="3.6" stroke-dasharray="5 0.8"/>
<polyline points="528.3,529.5 530.7,551.0" fill="none" stroke="#000" stroke-width="2.8" stroke-dasharray="4 1"/>
<polyline points="519.0,560.0 523.0,559.3" fill="none" stroke="#000" stroke-width="2" />
<polyline points="493.9,582.0 493.9,594.0" fill="none" stroke="#000" stroke-width="1.5" stroke-dasharray="5 3"/>
<polyline points="521.0,566.6 521.0,596.0" fill="none" stroke="#000" stroke-width="1.5" stroke-dasharray="7 3.5"/>
<polyline points="508.7,604.0 520.3,597.6" fill="none" stroke="#000" stroke-width="1.5" />
<polyline points="526.8,525.3 535.8,522.5" fill="none" stroke="#000" stroke-width="1.3" />
</g>
<defs><filter id="ws" x="-5%" y="-30%" width="110%" height="160%"><feGaussianBlur in="SourceAlpha" stdDeviation="0.9" result="bl"/><feOffset in="bl" dx="0.6" dy="0.7" result="of"/><feFlood flood-color="#6a6a6a" flood-opacity="0.9"/><feComposite in2="of" operator="in" result="sh"/><feMerge><feMergeNode in="sh"/><feMergeNode in="SourceGraphic"/></feMerge></filter></defs>
<g opacity="0.85"><text x="162.3" y="368" font-size="27" filter="url(#ws)" style="font-weight:normal;fill:#fff;stroke:none">eReplacementParts.com</text></g>
</svg>
</body></html>
